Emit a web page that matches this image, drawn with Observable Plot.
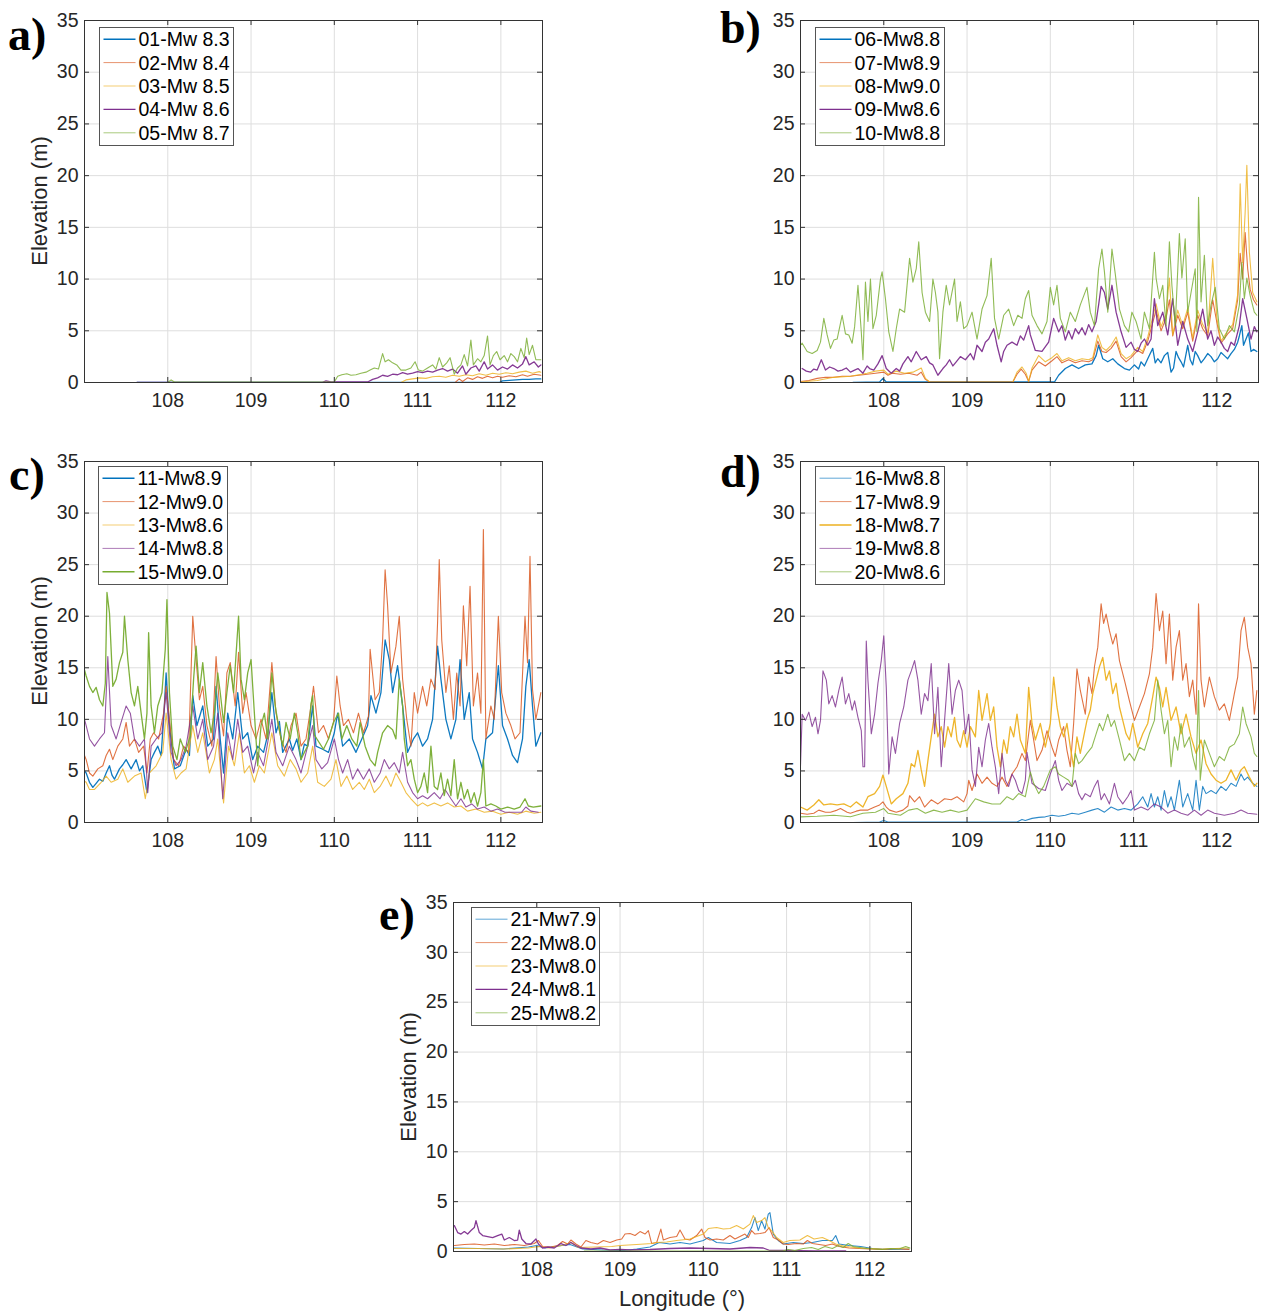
<!DOCTYPE html>
<html><head><meta charset="utf-8">
<script src="https://cdn.jsdelivr.net/npm/d3@7"></script>
<script src="https://cdn.jsdelivr.net/npm/@observablehq/plot@0.6"></script>
<style>
body{margin:0;background:#fff;}
#fig{position:relative;width:1261px;height:1313px;background:#fff;overflow:hidden;}
#fig svg{position:absolute;}
</style></head>
<body><div id="fig"></div>
<script>
// ---------- tick values ----------
const lonTicks = [108, 109, 110, 111, 112];
const elevTicks = [0, 5, 10, 15, 20, 25, 30, 35];

// ---------- panel a ----------
const namesA = ["01-Mw 8.3", "02-Mw 8.4", "03-Mw 8.5", "04-Mw 8.6", "05-Mw 8.7"];
const a01 = [[107.63,0],[111.98,0],[112.02,0.15],[112.1,0.2],[112.18,0.25],[112.26,0.3],[112.34,0.3],[112.42,0.35],[112.48,0.35]];
const a02 = [[107.63,0],[111.45,0],[111.5,0.35],[111.54,0.1],[111.6,0.45],[111.66,0.3],[111.72,0.55],[111.78,0.4],[111.84,0.6],[111.9,0.45],[111.96,0.6],[112.02,0.5],[112.1,0.65],[112.18,0.55],[112.26,0.75],[112.32,0.6],[112.4,0.8],[112.48,0.7]];
const a03 = [[107.63,0],[110.8,0],[110.86,0.25],[110.94,0.35],[111.02,0.45],[111.1,0.4],[111.18,0.55],[111.26,0.6],[111.34,0.5],[111.42,0.7],[111.5,0.6],[111.58,0.75],[111.66,0.65],[111.74,0.85],[111.82,0.7],[111.9,0.9],[111.98,0.8],[112.06,0.95],[112.14,0.85],[112.22,1.0],[112.3,1.1],[112.38,0.9],[112.46,1.05],[112.48,1.0]];
const a04 = [[107.63,0],[109.85,0],[109.9,0.15],[109.96,0.05],[110.4,0.05],[110.46,0.3],[110.52,0.45],[110.58,0.7],[110.64,0.6],[110.7,0.8],[110.76,0.75],[110.82,0.95],[110.88,0.8],[110.94,0.9],[111.0,1.05],[111.06,0.95],[111.12,1.1],[111.18,1.0],[111.24,1.2],[111.3,1.35],[111.36,1.1],[111.42,1.3],[111.48,0.9],[111.54,1.6],[111.58,0.8],[111.64,1.4],[111.7,1.6],[111.74,1.1],[111.8,2.0],[111.84,1.3],[111.9,1.7],[111.96,1.2],[112.02,1.5],[112.08,1.3],[112.14,1.7],[112.2,1.4],[112.26,1.8],[112.3,2.5],[112.34,1.7],[112.4,2.0],[112.45,1.5],[112.48,1.7]];
const a05 = [[107.63,0],[108.0,0],[108.04,0.25],[108.08,0.05],[110.0,0.05],[110.04,0.6],[110.09,0.75],[110.15,0.85],[110.2,0.7],[110.26,0.75],[110.32,0.9],[110.38,1.0],[110.43,1.2],[110.48,1.4],[110.53,1.3],[110.58,2.8],[110.61,2.0],[110.65,2.2],[110.7,1.9],[110.75,1.7],[110.8,1.2],[110.86,1.2],[110.92,1.4],[110.97,2.0],[111.01,1.2],[111.06,1.1],[111.12,1.4],[111.18,1.7],[111.22,1.3],[111.26,2.4],[111.3,1.5],[111.35,1.9],[111.39,2.4],[111.44,0.8],[111.48,1.4],[111.52,1.7],[111.56,2.7],[111.6,1.6],[111.64,4.1],[111.67,1.7],[111.72,2.3],[111.76,2.0],[111.8,2.6],[111.84,4.5],[111.87,1.7],[111.91,2.6],[111.95,3.0],[111.99,2.2],[112.04,2.6],[112.08,2.0],[112.12,2.8],[112.16,2.5],[112.2,2.0],[112.24,3.3],[112.28,2.4],[112.31,4.3],[112.34,2.7],[112.38,3.6],[112.42,2.2],[112.48,2.2]];

// ---------- panel b ----------
const namesB = ["06-Mw8.8", "07-Mw8.9", "08-Mw9.0", "09-Mw8.6", "10-Mw8.8"];
const b06 = [[107.63,0],[107.95,0.05],[107.99,0.4],[108.03,0.05],[110.05,0.05],[110.1,0.7],[110.18,1.35],[110.26,1.7],[110.34,1.35],[110.42,1.7],[110.5,1.8],[110.55,2.6],[110.58,3.6],[110.63,2.3],[110.69,2.0],[110.75,2.3],[110.81,1.8],[110.89,1.35],[110.95,1.2],[111.01,1.7],[111.06,1.3],[111.09,2.0],[111.13,1.6],[111.17,2.3],[111.2,2.8],[111.23,3.3],[111.26,1.9],[111.29,2.3],[111.33,1.9],[111.37,2.6],[111.41,2.9],[111.45,1.0],[111.48,1.4],[111.51,3.0],[111.54,2.4],[111.57,2.0],[111.6,1.5],[111.65,3.6],[111.68,2.2],[111.71,1.7],[111.74,3.0],[111.77,2.6],[111.81,1.9],[111.85,2.3],[111.89,2.8],[111.93,2.5],[111.97,2.0],[112.01,2.3],[112.05,2.9],[112.09,2.6],[112.13,2.3],[112.17,2.8],[112.21,3.2],[112.25,3.9],[112.27,4.5],[112.3,5.5],[112.32,3.6],[112.35,4.2],[112.38,4.8],[112.41,3.0],[112.44,3.2],[112.48,3.0]];
const b07 = [[107.0,0.1],[107.1,0.2],[107.2,0.4],[107.3,0.5],[107.4,0.5],[107.5,0.6],[107.6,0.6],[107.7,0.7],[107.8,0.8],[107.9,0.9],[108.0,1.0],[108.05,0.7],[108.1,0.9],[108.2,0.8],[108.3,0.9],[108.4,0.7],[108.45,1.0],[108.5,0.3],[108.55,0.05],[109.55,0.05],[109.6,0.8],[109.65,1.3],[109.7,0.8],[109.74,0.1],[109.78,1.2],[109.86,2.0],[109.94,1.6],[110.02,2.1],[110.08,2.5],[110.14,1.9],[110.22,2.2],[110.3,1.9],[110.38,2.1],[110.46,2.0],[110.51,2.2],[110.57,4.0],[110.62,3.0],[110.67,2.9],[110.73,3.3],[110.79,4.0],[110.85,2.5],[110.91,2.0],[110.97,2.4],[111.05,3.1],[111.11,2.8],[111.17,4.0],[111.22,5.5],[111.27,7.0],[111.33,5.0],[111.39,6.2],[111.43,8.0],[111.47,4.5],[111.53,6.5],[111.59,5.2],[111.65,6.8],[111.71,4.0],[111.77,6.5],[111.83,5.2],[111.89,4.5],[111.95,8.0],[112.0,5.8],[112.05,3.8],[112.13,4.7],[112.19,5.2],[112.25,8.0],[112.28,12.5],[112.31,10.0],[112.34,14.5],[112.37,11.0],[112.4,9.0],[112.44,8.0],[112.48,7.5]];
const b08 = [[107.0,0.05],[107.2,0.2],[107.4,0.5],[107.6,0.6],[107.8,0.9],[107.9,1.1],[108.0,1.2],[108.05,0.8],[108.15,1.1],[108.25,0.9],[108.35,1.0],[108.45,1.4],[108.5,0.4],[108.55,0.05],[109.55,0.05],[109.6,1.0],[109.66,1.5],[109.71,0.9],[109.74,0.1],[109.78,1.4],[109.86,2.6],[109.94,2.0],[110.02,2.4],[110.08,2.8],[110.14,2.1],[110.22,2.4],[110.3,2.1],[110.38,2.3],[110.46,2.2],[110.51,2.4],[110.57,4.6],[110.62,3.4],[110.67,3.1],[110.73,3.6],[110.79,4.4],[110.85,2.8],[110.91,2.3],[110.97,2.6],[111.05,3.4],[111.11,3.0],[111.17,4.4],[111.22,6.0],[111.27,7.6],[111.33,5.4],[111.39,6.6],[111.43,10.1],[111.47,4.6],[111.53,7.0],[111.59,5.5],[111.65,7.2],[111.71,4.3],[111.77,7.0],[111.83,5.6],[111.89,4.8],[111.95,12.0],[112.0,6.2],[112.05,4.0],[112.13,5.0],[112.19,5.6],[112.25,8.5],[112.28,19.2],[112.31,11.6],[112.34,16.5],[112.36,21.0],[112.39,12.6],[112.43,8.7],[112.48,7.8]];
const b09 = [[107.02,1.35],[107.07,1.1],[107.12,1.0],[107.16,1.3],[107.2,1.2],[107.25,2.2],[107.3,1.2],[107.35,1.5],[107.4,1.35],[107.45,1.1],[107.5,1.2],[107.55,1.4],[107.6,1.0],[107.65,1.2],[107.69,1.35],[107.75,0.9],[107.8,1.6],[107.83,1.35],[107.88,1.2],[107.93,1.8],[107.98,2.6],[108.03,1.35],[108.09,0.9],[108.15,1.35],[108.19,1.1],[108.23,1.8],[108.29,2.5],[108.33,2.0],[108.39,3.0],[108.45,2.2],[108.51,2.5],[108.55,1.9],[108.59,1.7],[108.65,0.7],[108.71,1.35],[108.75,1.7],[108.79,2.2],[108.83,1.6],[108.87,2.0],[108.92,2.5],[108.98,2.2],[109.04,2.8],[109.08,2.2],[109.12,3.6],[109.18,3.0],[109.22,3.9],[109.26,4.2],[109.32,5.2],[109.36,3.6],[109.41,2.0],[109.44,3.0],[109.48,3.6],[109.54,3.9],[109.6,3.6],[109.64,4.5],[109.68,4.1],[109.74,5.5],[109.76,4.6],[109.82,3.1],[109.9,3.0],[109.98,3.9],[110.04,6.2],[110.1,4.9],[110.14,5.5],[110.18,4.1],[110.22,5.0],[110.26,4.2],[110.3,5.2],[110.34,4.7],[110.38,5.3],[110.42,4.6],[110.46,5.6],[110.5,4.9],[110.55,5.9],[110.58,7.5],[110.61,9.3],[110.65,8.7],[110.69,7.1],[110.74,9.4],[110.79,6.8],[110.85,4.9],[110.91,3.4],[110.97,3.9],[111.01,3.2],[111.05,3.0],[111.09,3.8],[111.13,4.2],[111.17,3.6],[111.21,4.2],[111.25,8.1],[111.29,5.5],[111.35,6.8],[111.41,4.6],[111.47,8.1],[111.53,3.6],[111.59,5.9],[111.65,4.2],[111.71,3.0],[111.77,4.9],[111.83,7.1],[111.89,4.2],[111.93,5.0],[111.97,3.6],[112.01,4.4],[112.05,3.9],[112.09,3.3],[112.13,3.0],[112.17,3.9],[112.21,3.6],[112.27,5.5],[112.31,8.1],[112.36,6.2],[112.41,4.2],[112.45,5.4],[112.48,4.9]];
const b10 = [[107.0,3.6],[107.02,3.8],[107.08,3.0],[107.14,2.8],[107.2,3.1],[107.24,3.9],[107.28,6.2],[107.32,4.6],[107.36,3.3],[107.4,4.1],[107.44,4.2],[107.5,6.5],[107.54,4.7],[107.58,4.6],[107.62,3.8],[107.65,5.4],[107.69,9.4],[107.73,4.9],[107.75,2.2],[107.78,9.7],[107.81,5.9],[107.84,10.0],[107.87,5.2],[107.91,6.5],[107.96,10.0],[107.98,10.7],[108.02,8.1],[108.06,4.9],[108.11,3.0],[108.15,5.2],[108.19,7.1],[108.25,6.8],[108.31,12.0],[108.35,9.7],[108.39,11.0],[108.42,13.6],[108.46,8.7],[108.5,6.8],[108.55,5.9],[108.59,10.0],[108.62,8.7],[108.65,6.8],[108.67,2.3],[108.71,6.8],[108.75,9.4],[108.79,7.5],[108.85,10.0],[108.88,5.9],[108.92,7.8],[108.96,5.2],[109.0,5.5],[109.06,6.8],[109.12,4.2],[109.18,7.1],[109.24,8.4],[109.29,12.0],[109.33,6.2],[109.38,4.2],[109.44,6.5],[109.5,7.1],[109.56,5.5],[109.61,6.5],[109.66,6.2],[109.7,8.1],[109.74,8.9],[109.78,6.5],[109.84,5.5],[109.9,4.7],[109.96,5.9],[110.0,9.2],[110.04,7.5],[110.08,9.4],[110.12,6.2],[110.18,4.9],[110.24,6.8],[110.3,5.9],[110.36,7.5],[110.44,9.2],[110.48,6.8],[110.53,5.5],[110.58,11.0],[110.62,12.9],[110.65,10.7],[110.69,6.8],[110.74,12.9],[110.78,10.5],[110.83,7.1],[110.89,5.5],[110.94,4.9],[110.98,6.8],[111.03,5.9],[111.09,4.2],[111.13,6.8],[111.19,5.2],[111.25,12.6],[111.27,10.1],[111.31,8.1],[111.35,9.4],[111.39,5.5],[111.43,13.6],[111.46,9.4],[111.5,5.5],[111.55,14.4],[111.58,10.1],[111.62,13.9],[111.65,6.8],[111.69,8.7],[111.74,11.0],[111.76,4.9],[111.78,17.9],[111.81,7.8],[111.85,12.3],[111.89,5.5],[111.93,7.5],[111.98,9.2],[112.03,5.2],[112.09,4.2],[112.15,5.5],[112.21,4.9],[112.27,7.5],[112.3,11.6],[112.33,8.1],[112.36,10.1],[112.4,8.4],[112.45,6.8],[112.48,6.5]];

// ---------- panel c ----------
const namesC = ["11-Mw8.9", "12-Mw9.0", "13-Mw8.6", "14-Mw8.8", "15-Mw9.0"];
const c11 = [[107.0,5.0],[107.02,4.8],[107.06,3.9],[107.1,3.4],[107.14,3.8],[107.18,4.2],[107.22,4.0],[107.26,4.8],[107.3,5.5],[107.33,4.6],[107.36,4.2],[107.42,5.2],[107.46,5.6],[107.5,6.1],[107.56,5.2],[107.62,6.1],[107.66,5.0],[107.7,5.5],[107.75,2.9],[107.8,6.1],[107.84,6.8],[107.88,7.4],[107.92,6.5],[107.95,10.0],[107.98,14.5],[108.01,10.5],[108.03,8.7],[108.08,5.2],[108.15,5.5],[108.22,7.1],[108.26,6.5],[108.3,12.3],[108.35,9.4],[108.42,11.3],[108.48,7.4],[108.55,8.1],[108.58,13.2],[108.63,8.1],[108.67,4.8],[108.72,10.6],[108.78,8.1],[108.84,12.6],[108.9,8.1],[108.96,8.7],[109.02,6.1],[109.08,7.4],[109.15,6.8],[109.2,8.5],[109.25,12.6],[109.3,8.7],[109.34,9.8],[109.38,6.8],[109.46,8.1],[109.5,7.0],[109.55,8.1],[109.6,6.1],[109.64,7.6],[109.68,7.4],[109.74,11.3],[109.78,7.4],[109.86,7.1],[109.93,6.8],[110.0,8.7],[110.04,10.6],[110.1,7.4],[110.18,8.1],[110.26,6.8],[110.33,8.1],[110.4,9.4],[110.44,12.3],[110.5,10.6],[110.56,12.6],[110.61,17.7],[110.66,15.8],[110.7,12.6],[110.76,15.2],[110.82,11.3],[110.88,6.8],[110.95,8.1],[111.0,8.7],[111.06,7.4],[111.12,8.1],[111.18,10.0],[111.24,17.1],[111.28,13.9],[111.34,10.0],[111.4,8.1],[111.46,10.0],[111.51,15.8],[111.56,10.0],[111.62,12.6],[111.66,8.1],[111.72,6.8],[111.78,5.2],[111.82,8.1],[111.9,8.7],[111.97,15.2],[112.02,9.4],[112.08,8.1],[112.14,6.5],[112.2,5.8],[112.26,8.1],[112.3,13.2],[112.34,15.8],[112.38,11.3],[112.42,7.4],[112.48,8.7]];
const c12 = [[107.0,6.5],[107.02,6.1],[107.06,4.8],[107.1,4.5],[107.16,5.2],[107.22,5.5],[107.26,6.5],[107.3,7.1],[107.34,6.1],[107.4,7.4],[107.46,8.1],[107.5,9.7],[107.54,7.4],[107.6,8.1],[107.65,6.8],[107.71,7.4],[107.75,4.8],[107.79,8.1],[107.83,8.7],[107.89,8.1],[107.95,10.6],[107.98,13.2],[108.02,10.0],[108.07,6.1],[108.13,5.5],[108.19,7.4],[108.25,6.8],[108.3,20.0],[108.34,15.8],[108.38,11.9],[108.42,13.2],[108.47,9.4],[108.53,7.4],[108.58,16.1],[108.62,11.3],[108.67,8.4],[108.71,14.5],[108.75,15.5],[108.81,11.3],[108.85,16.5],[108.9,10.6],[108.94,12.6],[109.0,9.4],[109.06,8.1],[109.12,10.0],[109.18,8.1],[109.25,15.5],[109.3,10.6],[109.36,8.1],[109.42,6.8],[109.48,9.4],[109.54,10.6],[109.6,7.4],[109.66,8.1],[109.72,11.3],[109.75,13.2],[109.81,8.7],[109.87,9.4],[109.93,8.1],[109.99,9.7],[110.03,14.2],[110.07,11.3],[110.11,9.4],[110.17,10.0],[110.23,8.7],[110.29,10.6],[110.35,8.7],[110.41,10.3],[110.43,16.8],[110.49,11.9],[110.54,12.6],[110.58,17.7],[110.61,24.5],[110.64,21.0],[110.68,14.5],[110.74,17.1],[110.78,20.0],[110.82,13.9],[110.87,10.0],[110.92,7.4],[110.96,12.6],[111.0,10.6],[111.06,13.2],[111.11,11.3],[111.16,13.9],[111.21,12.9],[111.24,19.4],[111.26,25.5],[111.29,17.7],[111.34,12.6],[111.38,15.2],[111.43,10.0],[111.47,14.5],[111.51,11.3],[111.55,21.0],[111.59,15.2],[111.63,22.9],[111.67,11.3],[111.72,14.5],[111.76,10.6],[111.79,28.4],[111.82,8.1],[111.88,11.3],[111.92,10.0],[111.97,20.0],[112.01,12.6],[112.06,10.6],[112.12,9.4],[112.17,8.1],[112.23,8.7],[112.29,20.0],[112.32,15.5],[112.35,25.8],[112.38,12.9],[112.42,10.0],[112.48,12.6]];
const c13 = [[107.0,4.0],[107.02,3.9],[107.06,3.2],[107.12,3.2],[107.2,3.9],[107.26,4.5],[107.32,3.9],[107.4,4.2],[107.46,5.2],[107.52,3.9],[107.6,4.5],[107.68,4.8],[107.73,2.3],[107.78,4.8],[107.86,5.5],[107.94,6.8],[107.98,10.6],[108.04,6.1],[108.1,4.2],[108.16,4.8],[108.22,5.2],[108.3,9.4],[108.36,6.8],[108.42,8.7],[108.5,4.8],[108.56,6.1],[108.6,8.1],[108.67,1.9],[108.73,7.4],[108.8,5.5],[108.86,8.7],[108.92,4.8],[108.98,5.5],[109.04,3.9],[109.1,5.5],[109.16,4.8],[109.25,8.7],[109.32,5.5],[109.4,4.5],[109.47,6.1],[109.54,5.2],[109.6,3.9],[109.68,4.8],[109.74,7.4],[109.8,3.9],[109.88,3.5],[109.96,4.2],[110.02,6.1],[110.08,3.5],[110.15,4.5],[110.22,3.2],[110.3,3.9],[110.36,3.2],[110.42,4.2],[110.48,2.9],[110.55,3.5],[110.62,4.5],[110.68,3.5],[110.74,4.8],[110.8,3.9],[110.86,2.9],[110.92,2.3],[111.0,1.6],[111.06,1.9],[111.12,1.6],[111.2,1.9],[111.28,1.6],[111.36,1.9],[111.44,1.5],[111.52,1.6],[111.6,1.1],[111.7,1.3],[111.8,1.0],[111.9,1.1],[112.0,0.8],[112.1,1.0],[112.2,0.8],[112.3,1.1],[112.4,0.9],[112.48,1.0]];
const c14 = [[107.0,10.0],[107.02,9.4],[107.06,8.1],[107.12,7.4],[107.18,8.1],[107.24,8.7],[107.28,16.1],[107.32,9.4],[107.38,8.1],[107.45,10.0],[107.5,11.3],[107.55,10.6],[107.6,8.1],[107.66,7.4],[107.72,8.1],[107.76,2.9],[107.8,7.4],[107.86,8.1],[107.93,8.7],[107.98,12.6],[108.04,6.8],[108.1,5.5],[108.16,6.1],[108.22,7.4],[108.3,11.3],[108.36,8.1],[108.42,10.0],[108.48,6.1],[108.55,7.4],[108.6,10.6],[108.66,2.3],[108.72,8.7],[108.78,6.1],[108.84,10.0],[108.9,6.8],[108.96,7.4],[109.03,4.8],[109.08,6.8],[109.15,5.5],[109.25,10.0],[109.3,6.8],[109.38,5.5],[109.46,7.4],[109.54,6.1],[109.6,4.8],[109.68,7.4],[109.74,9.4],[109.78,6.1],[109.85,5.2],[109.92,5.8],[110.0,8.1],[110.05,6.1],[110.1,4.8],[110.16,6.1],[110.22,4.2],[110.28,5.2],[110.35,4.2],[110.42,5.2],[110.48,3.9],[110.55,4.8],[110.6,6.1],[110.66,5.2],[110.72,5.8],[110.78,4.8],[110.82,6.8],[110.88,3.9],[110.94,2.9],[111.0,2.3],[111.06,2.6],[111.12,2.3],[111.2,2.9],[111.27,2.3],[111.33,3.2],[111.4,2.3],[111.46,1.6],[111.52,2.3],[111.58,1.5],[111.65,1.8],[111.72,1.3],[111.8,1.5],[111.88,1.1],[111.96,1.3],[112.05,1.0],[112.15,1.0],[112.25,1.0],[112.3,1.5],[112.36,1.1],[112.45,1.0]];
const c15 = [[107.0,14.8],[107.02,14.2],[107.06,13.2],[107.1,12.6],[107.14,13.1],[107.18,11.9],[107.22,11.3],[107.25,13.5],[107.27,22.3],[107.3,20.3],[107.34,13.2],[107.38,13.9],[107.42,15.5],[107.46,16.5],[107.48,20.0],[107.52,15.8],[107.56,12.6],[107.6,11.3],[107.64,13.2],[107.68,10.6],[107.72,8.1],[107.75,10.6],[107.77,18.4],[107.8,11.3],[107.84,8.7],[107.88,11.3],[107.93,12.6],[107.97,16.8],[107.99,21.6],[108.02,12.6],[108.06,7.4],[108.11,6.1],[108.15,8.1],[108.21,6.8],[108.27,8.4],[108.31,13.9],[108.34,17.1],[108.38,12.6],[108.42,15.5],[108.47,11.3],[108.52,8.7],[108.56,10.6],[108.6,14.5],[108.63,12.6],[108.67,9.7],[108.71,12.6],[108.75,15.2],[108.79,12.6],[108.85,20.0],[108.88,13.9],[108.92,11.9],[108.96,14.5],[109.0,15.8],[109.04,10.6],[109.08,5.5],[109.12,9.4],[109.16,10.6],[109.2,8.1],[109.25,14.5],[109.29,11.3],[109.33,9.4],[109.38,7.4],[109.42,9.7],[109.47,8.1],[109.52,10.6],[109.56,8.7],[109.6,6.1],[109.64,6.8],[109.68,7.4],[109.72,11.5],[109.74,12.3],[109.76,8.5],[109.79,8.1],[109.87,7.1],[109.93,8.1],[109.99,9.7],[110.05,10.6],[110.09,8.1],[110.15,9.4],[110.21,8.1],[110.27,7.4],[110.31,9.7],[110.37,7.4],[110.43,6.1],[110.49,5.5],[110.52,6.8],[110.58,8.7],[110.64,9.4],[110.7,9.0],[110.74,8.1],[110.78,13.9],[110.82,11.3],[110.84,8.1],[110.88,5.5],[110.92,6.1],[110.96,4.2],[111.0,2.9],[111.04,3.5],[111.08,4.8],[111.12,2.9],[111.16,7.4],[111.2,3.5],[111.24,3.2],[111.28,4.8],[111.32,2.6],[111.36,4.2],[111.4,2.6],[111.44,6.1],[111.48,2.3],[111.52,3.9],[111.56,2.3],[111.6,3.2],[111.64,1.9],[111.68,2.9],[111.72,1.6],[111.76,2.9],[111.79,6.1],[111.82,1.6],[111.88,1.8],[111.94,1.6],[112.0,1.3],[112.08,1.5],[112.16,1.3],[112.23,1.5],[112.29,2.3],[112.33,1.6],[112.39,1.5],[112.48,1.6]];

// ---------- panel d ----------
const namesD = ["16-Mw8.8", "17-Mw8.9", "18-Mw8.7", "19-Mw8.8", "20-Mw8.6"];
const d16 = [[107.63,0],[107.95,0.05],[108.0,0.2],[108.05,0.05],[109.6,0.05],[109.66,0.3],[109.7,0.2],[109.78,0.4],[109.86,0.5],[109.94,0.55],[110.02,0.7],[110.1,0.6],[110.18,0.7],[110.26,0.9],[110.34,0.8],[110.42,1.0],[110.5,1.2],[110.57,1.35],[110.65,1.0],[110.73,1.5],[110.81,1.2],[110.89,1.35],[110.97,1.2],[111.05,1.8],[111.11,2.5],[111.17,1.5],[111.21,2.8],[111.25,1.5],[111.29,2.5],[111.33,1.2],[111.37,3.1],[111.41,1.5],[111.45,2.5],[111.49,1.2],[111.55,4.1],[111.59,1.5],[111.65,2.8],[111.71,1.2],[111.75,4.1],[111.79,1.2],[111.83,3.5],[111.87,2.8],[111.93,3.1],[111.99,2.8],[112.05,3.5],[112.11,3.1],[112.17,3.8],[112.23,3.5],[112.29,4.7],[112.33,4.1],[112.37,4.4],[112.43,3.8],[112.48,3.5]];
const d17 = [[107.0,0.9],[107.08,0.8],[107.16,0.9],[107.22,1.2],[107.3,1.0],[107.36,1.0],[107.44,1.2],[107.48,1.35],[107.56,1.0],[107.6,0.9],[107.67,1.1],[107.72,1.2],[107.81,1.2],[107.89,1.5],[107.95,1.7],[107.99,2.0],[108.03,1.5],[108.07,1.2],[108.15,1.0],[108.23,1.2],[108.29,1.6],[108.31,2.6],[108.37,2.0],[108.43,2.5],[108.49,1.5],[108.57,2.2],[108.65,1.8],[108.73,2.3],[108.81,2.2],[108.88,2.5],[108.96,2.0],[109.0,2.8],[109.02,4.1],[109.06,3.1],[109.12,4.7],[109.18,3.8],[109.24,4.4],[109.3,3.8],[109.36,3.5],[109.42,4.4],[109.48,3.5],[109.54,4.7],[109.6,5.4],[109.66,6.7],[109.7,6.0],[109.76,9.9],[109.8,8.0],[109.84,6.0],[109.9,7.0],[109.96,8.9],[110.02,7.3],[110.06,6.4],[110.1,8.0],[110.16,9.3],[110.2,7.0],[110.24,5.4],[110.28,9.6],[110.32,14.9],[110.36,12.8],[110.42,10.5],[110.46,14.1],[110.5,12.5],[110.53,15.1],[110.57,17.0],[110.61,21.2],[110.64,19.3],[110.67,20.2],[110.71,18.6],[110.75,17.3],[110.79,18.3],[110.83,15.7],[110.89,13.8],[110.95,11.8],[111.01,9.9],[111.07,11.2],[111.13,12.5],[111.19,14.4],[111.23,17.0],[111.27,22.2],[111.31,18.6],[111.35,20.5],[111.39,15.4],[111.43,20.2],[111.47,13.8],[111.51,17.0],[111.55,18.6],[111.59,13.8],[111.63,15.4],[111.67,12.2],[111.71,13.8],[111.75,10.5],[111.78,21.2],[111.81,13.8],[111.85,11.2],[111.91,14.1],[111.97,12.2],[112.03,10.9],[112.09,11.5],[112.15,9.9],[112.21,12.5],[112.25,14.1],[112.29,18.6],[112.33,19.9],[112.37,17.0],[112.41,15.4],[112.45,10.5],[112.48,12.8]];
const d18 = [[107.0,1.5],[107.08,1.2],[107.16,1.7],[107.22,2.2],[107.28,1.7],[107.36,1.8],[107.44,1.7],[107.52,1.8],[107.6,1.5],[107.67,2.0],[107.75,1.5],[107.81,2.5],[107.89,2.8],[107.95,3.5],[107.99,4.6],[108.03,3.5],[108.09,1.8],[108.15,2.3],[108.23,2.8],[108.29,3.8],[108.33,5.7],[108.37,5.4],[108.41,7.0],[108.45,5.1],[108.49,3.5],[108.53,6.0],[108.57,8.3],[108.61,10.5],[108.65,8.3],[108.69,9.3],[108.73,7.3],[108.77,9.3],[108.81,8.3],[108.85,10.2],[108.88,8.0],[108.92,7.3],[108.96,8.9],[109.0,7.3],[109.04,9.3],[109.1,8.3],[109.14,12.8],[109.18,9.9],[109.24,12.5],[109.28,9.9],[109.32,11.2],[109.36,7.3],[109.4,5.4],[109.44,8.0],[109.48,6.7],[109.52,9.3],[109.56,8.3],[109.6,10.5],[109.64,8.0],[109.7,6.7],[109.74,13.1],[109.78,9.6],[109.82,8.0],[109.88,9.6],[109.94,7.3],[110.0,9.6],[110.04,14.1],[110.08,11.2],[110.12,9.3],[110.16,8.3],[110.2,9.6],[110.24,7.3],[110.28,5.4],[110.32,8.3],[110.36,6.7],[110.4,8.3],[110.44,9.9],[110.48,10.9],[110.51,12.5],[110.55,13.8],[110.59,15.1],[110.63,16.0],[110.67,13.8],[110.71,14.7],[110.75,12.5],[110.79,13.5],[110.83,11.2],[110.87,9.9],[110.91,8.6],[110.95,8.0],[110.99,9.6],[111.05,7.3],[111.11,8.6],[111.17,9.6],[111.23,12.2],[111.27,14.1],[111.31,13.1],[111.35,11.2],[111.39,13.1],[111.45,9.9],[111.51,11.2],[111.57,8.6],[111.63,10.5],[111.69,8.3],[111.75,6.7],[111.81,8.0],[111.87,5.7],[111.93,4.7],[111.99,4.1],[112.05,3.8],[112.11,4.1],[112.17,5.1],[112.23,4.1],[112.29,5.1],[112.33,5.4],[112.39,4.4],[112.45,3.5],[112.48,3.8]];
const d19 = [[107.0,5.5],[107.02,10.5],[107.06,9.9],[107.1,10.7],[107.14,9.3],[107.18,10.2],[107.21,8.6],[107.24,9.9],[107.27,14.7],[107.31,13.8],[107.34,11.5],[107.38,12.3],[107.42,11.2],[107.46,12.8],[107.5,14.1],[107.54,11.5],[107.58,12.5],[107.62,10.9],[107.65,11.8],[107.69,10.2],[107.73,8.9],[107.75,5.4],[107.77,5.4],[107.79,17.6],[107.81,13.8],[107.85,8.6],[107.89,10.5],[107.93,13.5],[107.97,15.7],[108.0,18.1],[108.03,13.1],[108.06,4.7],[108.1,8.3],[108.14,6.7],[108.19,9.6],[108.24,11.2],[108.29,13.8],[108.33,14.7],[108.37,15.7],[108.41,13.8],[108.45,10.5],[108.49,12.5],[108.53,11.8],[108.57,15.4],[108.61,8.6],[108.65,13.1],[108.69,5.4],[108.73,9.9],[108.78,15.4],[108.82,10.5],[108.86,12.8],[108.9,13.8],[108.94,12.8],[108.98,8.6],[109.02,10.5],[109.06,5.1],[109.1,3.5],[109.14,7.3],[109.18,5.4],[109.22,8.0],[109.26,9.6],[109.3,7.3],[109.34,5.4],[109.38,2.8],[109.42,6.7],[109.46,4.1],[109.5,3.5],[109.54,4.7],[109.58,4.1],[109.62,3.1],[109.66,2.8],[109.7,4.1],[109.72,6.8],[109.78,3.8],[109.86,3.3],[109.94,3.1],[110.0,4.7],[110.06,6.0],[110.1,4.1],[110.14,3.1],[110.2,3.8],[110.26,3.5],[110.3,4.1],[110.34,2.8],[110.38,2.2],[110.42,2.8],[110.48,2.5],[110.53,3.5],[110.57,4.1],[110.61,2.2],[110.65,2.8],[110.71,1.8],[110.77,3.8],[110.81,2.5],[110.87,1.8],[110.93,2.5],[110.97,3.1],[111.01,1.2],[111.09,1.5],[111.17,1.2],[111.25,1.8],[111.33,1.5],[111.41,0.9],[111.49,1.2],[111.57,0.9],[111.65,0.7],[111.73,1.2],[111.81,0.7],[111.89,1.2],[111.97,0.9],[112.09,0.7],[112.21,0.9],[112.29,1.2],[112.37,0.9],[112.48,0.8]];
const d20 = [[107.0,0.55],[107.2,0.6],[107.4,0.7],[107.6,0.55],[107.75,0.9],[107.9,1.0],[108.0,1.35],[108.05,0.9],[108.2,0.7],[108.3,1.2],[108.4,1.35],[108.5,0.9],[108.6,1.2],[108.7,1.0],[108.8,1.2],[108.9,1.0],[109.0,1.2],[109.1,2.3],[109.2,2.0],[109.3,1.8],[109.4,1.8],[109.48,2.5],[109.55,2.2],[109.62,2.8],[109.7,2.5],[109.74,4.1],[109.76,4.9],[109.8,3.8],[109.86,2.8],[109.92,3.5],[110.0,5.1],[110.06,5.4],[110.1,4.7],[110.16,4.4],[110.22,4.1],[110.26,3.5],[110.3,6.7],[110.34,5.7],[110.38,6.0],[110.44,6.7],[110.5,7.3],[110.55,8.6],[110.59,9.6],[110.63,8.9],[110.69,10.5],[110.73,9.3],[110.77,9.9],[110.83,8.0],[110.89,6.0],[110.95,6.7],[111.01,6.0],[111.07,7.3],[111.13,7.0],[111.19,8.6],[111.25,9.9],[111.29,13.8],[111.33,10.9],[111.37,8.6],[111.41,9.9],[111.45,5.4],[111.49,8.3],[111.53,7.0],[111.57,9.6],[111.61,7.3],[111.67,8.3],[111.71,6.4],[111.75,5.1],[111.78,12.8],[111.8,4.1],[111.85,8.0],[111.91,6.7],[111.97,5.4],[112.03,6.4],[112.09,6.0],[112.15,7.3],[112.21,7.6],[112.27,8.6],[112.31,11.2],[112.35,9.6],[112.41,8.3],[112.45,6.7],[112.48,6.4]];

// ---------- panel e ----------
const namesE = ["21-Mw7.9", "22-Mw8.0", "23-Mw8.0", "24-Mw8.1", "25-Mw8.2"];
const e21 = [[107.01,0.35],[107.3,0.3],[107.6,0.25],[107.9,0.45],[108.0,0.6],[108.1,0.35],[108.3,0.6],[108.4,0.7],[108.55,0.25],[108.8,0.15],[109.04,0.1],[109.2,0.25],[109.36,0.45],[109.47,0.9],[109.6,0.75],[109.72,0.9],[109.84,0.75],[110.0,1.1],[110.06,1.4],[110.16,0.9],[110.32,0.8],[110.44,1.1],[110.52,1.4],[110.58,2.4],[110.62,3.4],[110.66,2.1],[110.7,3.1],[110.74,2.25],[110.78,3.75],[110.8,3.9],[110.84,1.75],[110.9,1.1],[110.96,0.75],[111.08,0.9],[111.2,0.8],[111.31,0.9],[111.43,1.1],[111.55,1.1],[111.59,1.6],[111.63,0.75],[111.75,0.6],[111.89,0.5],[112.03,0.3],[112.23,0.2],[112.47,0.25]];
const e22 = [[107.01,0.6],[107.13,0.7],[107.25,0.75],[107.37,0.65],[107.49,0.75],[107.61,0.6],[107.73,0.7],[107.85,0.6],[107.97,0.8],[108.02,1.1],[108.07,0.5],[108.17,0.45],[108.25,0.6],[108.31,1.0],[108.37,0.75],[108.41,1.15],[108.47,0.75],[108.53,0.45],[108.59,1.1],[108.65,0.9],[108.73,0.75],[108.8,1.1],[108.88,0.9],[108.96,1.15],[109.02,1.25],[109.06,1.75],[109.12,1.8],[109.18,1.6],[109.24,2.0],[109.3,1.75],[109.34,2.1],[109.38,0.8],[109.44,0.9],[109.49,2.25],[109.52,1.15],[109.6,1.4],[109.68,1.5],[109.72,2.15],[109.78,1.25],[109.84,1.15],[109.92,1.6],[109.98,2.25],[110.02,1.4],[110.08,1.15],[110.16,1.25],[110.24,1.15],[110.32,1.6],[110.38,1.25],[110.44,1.5],[110.5,1.75],[110.54,1.4],[110.58,2.1],[110.62,1.75],[110.68,1.8],[110.74,1.9],[110.79,2.4],[110.84,1.4],[110.9,1.15],[110.96,0.75],[111.02,0.7],[111.12,0.8],[111.2,0.75],[111.25,1.1],[111.31,0.8],[111.39,0.7],[111.47,0.6],[111.55,0.75],[111.63,0.5],[111.75,0.35],[111.87,0.3],[111.99,0.25],[112.15,0.2],[112.31,0.3],[112.47,0.2]];
const e23 = [[107.01,0.3],[107.3,0.3],[107.6,0.25],[107.9,0.35],[108.02,0.5],[108.15,0.35],[108.3,0.6],[108.41,0.9],[108.5,0.4],[108.7,0.45],[108.9,0.5],[109.0,0.6],[109.2,0.7],[109.38,0.8],[109.44,0.9],[109.56,0.95],[109.68,1.1],[109.84,1.25],[110.0,1.75],[110.06,2.3],[110.16,2.4],[110.24,2.25],[110.32,2.3],[110.4,2.6],[110.48,2.25],[110.56,2.75],[110.6,3.6],[110.64,2.9],[110.7,3.1],[110.74,3.4],[110.78,2.4],[110.82,2.1],[110.88,1.4],[110.96,0.9],[111.04,1.1],[111.16,1.15],[111.25,1.6],[111.33,1.25],[111.43,1.4],[111.51,1.1],[111.59,0.75],[111.71,0.5],[111.87,0.35],[112.15,0.25],[112.47,0.35]];
const e24 = [[107.01,2.6],[107.05,1.9],[107.09,1.75],[107.13,2.0],[107.17,1.75],[107.21,2.1],[107.25,2.4],[107.27,3.1],[107.31,1.9],[107.35,1.6],[107.41,1.5],[107.47,1.4],[107.53,1.6],[107.58,1.75],[107.61,1.15],[107.67,1.4],[107.73,1.1],[107.77,1.15],[107.79,2.15],[107.82,1.25],[107.87,0.8],[107.93,0.75],[107.99,1.25],[108.02,0.75],[108.07,0.35],[108.13,0.45],[108.21,0.35],[108.29,0.8],[108.35,0.6],[108.41,0.9],[108.47,0.6],[108.53,0.35],[108.65,0.25],[108.76,0.35],[108.88,0.15],[109.0,0.2],[109.12,0.15],[109.36,0.2],[109.6,0.3],[109.84,0.35],[110.08,0.3],[110.32,0.25],[110.56,0.4],[110.72,0.35],[110.8,0.1],[110.96,0.1],[111.35,0.05],[111.71,0.05]];
const e25 = [[108.57,0.05],[110.95,0.05],[111.02,0.2],[111.1,0.1],[111.2,0.3],[111.3,0.4],[111.38,0.2],[111.46,0.5],[111.55,0.3],[111.62,0.6],[111.68,0.4],[111.74,0.8],[111.8,0.5],[111.88,0.4],[111.96,0.3],[112.05,0.25],[112.15,0.2],[112.25,0.3],[112.35,0.25],[112.43,0.5],[112.48,0.35]];

// ---------- styling / layout ----------
const COLORS = ["#0072BD", "#D95319", "#EDB120", "#7E2F8E", "#77AC30"];
const FONT = '"Liberation Sans", Arial, Helvetica, sans-serif';
const panels = [
  {tag: "a)", names: namesA, series: [a01, a02, a03, a04, a05], strong: [1, 0, 0, 1, 0],
   box: {left: 84, top: 20, w: 458, h: 362}, tagPos: [8, 50], legend: [99, 27, 134], ylab: [39, 201]},
  {tag: "b)", names: namesB, series: [b06, b07, b08, b09, b10], strong: [1, 0, 0, 1, 0],
   box: {left: 800, top: 20, w: 458, h: 362}, tagPos: [720, 43], legend: [815, 27, 129], ylab: null},
  {tag: "c)", names: namesC, series: [c11, c12, c13, c14, c15], strong: [1, 0, 0, 0, 1],
   box: {left: 84, top: 461, w: 458, h: 361}, tagPos: [9, 490], legend: [98, 466, 129], ylab: [39, 641]},
  {tag: "d)", names: namesD, series: [d16, d17, d18, d19, d20], strong: [0, 0, 1, 0, 0],
   box: {left: 800, top: 461, w: 458, h: 361}, tagPos: [720, 487], legend: [815, 466, 129], ylab: null},
  {tag: "e)", names: namesE, series: [e21, e22, e23, e24, e25], strong: [0, 0, 0, 1, 0],
   box: {left: 453, top: 902, w: 458, h: 349}, tagPos: [379, 930], legend: [471, 907, 128], ylab: [408, 1077]}
];

const fig = document.getElementById("fig");
const ML = 50, MR = 12, MT = 12, MB = 40;

for (const p of panels) {
  const {left, top, w, h} = p.box;
  const lineMarks = p.series.map((s, i) => Plot.line(s, {
    x: d => d[0], y: d => d[1],
    stroke: COLORS[i],
    strokeWidth: p.strong[i] ? 1.3 : 1.1,
    strokeOpacity: p.strong[i] ? 0.95 : 0.82,
    clip: true
  }));
  const svg = Plot.plot({
    width: w + ML + MR, height: h + MT + MB,
    marginLeft: ML, marginRight: MR, marginTop: MT, marginBottom: MB,
    style: {fontFamily: FONT, fontSize: "19.5px", color: "#262626", background: "transparent", overflow: "visible"},
    x: {domain: [107, 112.5]},
    y: {domain: [0, 35]},
    marks: [
      Plot.gridX(lonTicks, {stroke: "#dedede", strokeOpacity: 1}),
      Plot.gridY(elevTicks, {stroke: "#dedede", strokeOpacity: 1}),
      ...lineMarks,
      Plot.tickX(lonTicks, {x: d => d, insetTop: h - 5, stroke: "#333"}),
      Plot.tickX(lonTicks, {x: d => d, insetBottom: h - 5, stroke: "#333"}),
      Plot.tickY(elevTicks, {y: d => d, insetRight: w - 5, stroke: "#333"}),
      Plot.tickY(elevTicks, {y: d => d, insetLeft: w - 5, stroke: "#333"}),
      Plot.axisX(lonTicks, {anchor: "bottom", tickSize: 0, tickPadding: 11, label: null}),
      Plot.axisY(elevTicks, {anchor: "left", tickSize: 0, tickPadding: 6, label: null}),
      Plot.frame({stroke: "#333", strokeWidth: 1})
    ]
  });
  svg.style.left = (left - ML) + "px";
  svg.style.top = (top - MT) + "px";
  fig.appendChild(svg);
}

// ---------- overlay: panel tags, legends, axis titles ----------
const ov = d3.create("svg").attr("width", 1261).attr("height", 1313)
  .style("left", "0px").style("top", "0px").style("pointer-events", "none");
for (const p of panels) {
  ov.append("text").attr("x", p.tagPos[0]).attr("y", p.tagPos[1])
    .attr("font-family", '"Liberation Serif", "DejaVu Serif", serif')
    .attr("font-weight", "bold").attr("font-size", 46).attr("fill", "#000")
    .text(p.tag);
  const [lx, ly, lw] = p.legend;
  const rowH = 23.4;
  const g = ov.append("g");
  g.append("rect").attr("x", lx + 0.5).attr("y", ly + 0.5).attr("width", lw).attr("height", rowH * 5 + 1)
    .attr("fill", "#fff").attr("stroke", "#555").attr("stroke-width", 1);
  p.names.forEach((n, i) => {
    const cy = ly + 12.2 + i * rowH;
    g.append("line").attr("x1", lx + 4.5).attr("x2", lx + 36.5).attr("y1", cy).attr("y2", cy)
      .attr("stroke", COLORS[i]).attr("stroke-width", p.strong[i] ? 1.4 : 0.9)
      .attr("stroke-opacity", p.strong[i] ? 1 : 0.7);
    g.append("text").attr("x", lx + 39.5).attr("y", cy).attr("dy", "0.36em")
      .attr("font-family", FONT).attr("font-size", 19.5).attr("fill", "#000").text(n);
  });
  if (p.ylab) {
    ov.append("text").attr("transform", `translate(${p.ylab[0]},${p.ylab[1]}) rotate(-90)`)
      .attr("text-anchor", "middle").attr("dy", "0.36em")
      .attr("font-family", FONT).attr("font-size", 22).attr("fill", "#262626")
      .text("Elevation (m)");
  }
}
ov.append("text").attr("x", 682).attr("y", 1298).attr("text-anchor", "middle").attr("dy", "0.36em")
  .attr("font-family", FONT).attr("font-size", 22).attr("fill", "#262626").text("Longitude (°)");
fig.appendChild(ov.node());
</script>
</body></html>
